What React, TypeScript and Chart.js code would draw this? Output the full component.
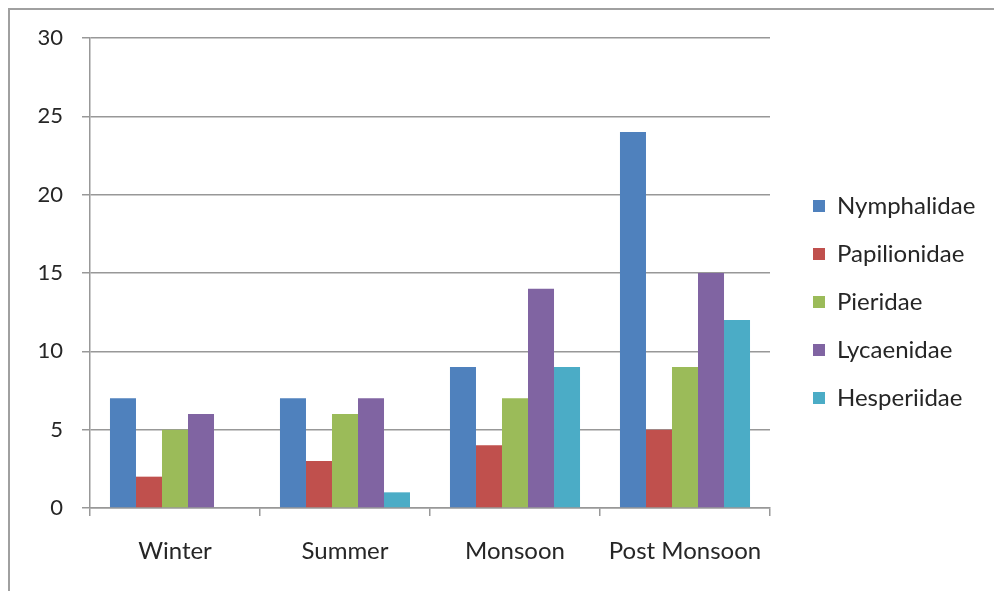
import React, { useEffect, useRef } from "react";
import { Chart, registerables } from "chart.js";

Chart.register(...registerables);

// Butterfly family counts per season
const seasons = ["Winter", "Summer", "Monsoon", "Post Monsoon"];
const nymphalidae = [7, 7, 9, 24];
const papilionidae = [2, 3, 4, 5];
const pieridae = [5, 6, 7, 9];
const lycaenidae = [6, 7, 14, 15];
const hesperiidae = [0, 1, 9, 12];

const familyNames = ["Nymphalidae", "Papilionidae", "Pieridae", "Lycaenidae", "Hesperiidae"];
const familyValues = [nymphalidae, papilionidae, pieridae, lycaenidae, hesperiidae];
const familyColors = ["#4F81BD", "#C0504D", "#9BBB59", "#8064A2", "#4BACC6"];

const yMin = 0;
const yMax = 30;
const yStep = 5;

const FONT = "Lato, 'Liberation Sans', sans-serif";
const TEXT = "#262626";
const GRID = "#989898";

// right edge of the plot area inside the canvas
const PLOT_RIGHT = 760;
// extra space between the plot and the legend column
const LEGEND_SHIFT = 19;

const legendShift = {
  id: "legendShift",
  afterLayout(chart: any) {
    const legend = chart.legend;
    if (!legend) return;
    legend.left += LEGEND_SHIFT;
    legend.right += LEGEND_SHIFT;
  },
};

export default function App() {
  const canvasRef = useRef<HTMLCanvasElement | null>(null);

  useEffect(() => {
    const canvas = canvasRef.current;
    if (!canvas) return;
    const chart = new Chart(canvas, {
      type: "bar",
      data: {
        labels: seasons,
        datasets: familyNames.map((name, i) => ({
          label: name,
          data: familyValues[i],
          backgroundColor: familyColors[i],
          borderWidth: 0,
          categoryPercentage: 0.765,
          barPercentage: 1,
        })),
      },
      plugins: [legendShift],
      options: {
        animation: false,
        responsive: false,
        devicePixelRatio: 1,
        layout: { padding: { top: 28, right: 20, left: 0, bottom: 25 } },
        plugins: {
          tooltip: { enabled: false },
          legend: {
            position: "right",
            labels: {
              boxWidth: 12,
              boxHeight: 12,
              padding: 24,
              color: TEXT,
              font: { family: FONT, size: 24 },
            },
          },
        },
        scales: {
          x: {
            grid: {
              offset: true,
              drawOnChartArea: false,
              drawTicks: true,
              tickLength: 8,
              color: GRID,
              lineWidth: 1.5,
            },
            border: { color: GRID, width: 1.5 },
            ticks: {
              color: TEXT,
              font: { family: FONT, size: 24 },
              padding: 21,
              maxRotation: 0,
            },
            afterFit: (scale: any) => {
              scale.height = 58;
            },
          },
          y: {
            min: yMin,
            max: yMax,
            grid: {
              color: GRID,
              lineWidth: 1.5,
              tickLength: 8,
            },
            border: { color: GRID, width: 1.5 },
            ticks: {
              stepSize: yStep,
              color: TEXT,
              font: { family: FONT, size: 22, lineHeight: 0.8 },
              padding: 19,
            },
            afterFit: (scale: any) => {
              scale.width = 80;
            },
          },
        },
      },
    });

    // keep the plot's right edge fixed whatever width the legend measures
    const settle = () => {
      for (let i = 0; i < 3; i++) {
        const diff = chart.chartArea.right - PLOT_RIGHT;
        if (Math.abs(diff) < 0.5) break;
        const pad = chart.options.layout!.padding as any;
        pad.right += diff;
        chart.update();
      }
    };
    settle();
    let alive = true;
    if (document.fonts && document.fonts.load) {
      document.fonts.load(`24px Lato`).then(() => {
        if (!alive) return;
        chart.update();
        settle();
      });
    }
    return () => {
      alive = false;
      chart.destroy();
    };
  }, []);

  return (
    <div
      style={{
        position: "fixed",
        left: 8,
        top: 8,
        width: 986,
        height: 583,
        borderLeft: "2px solid #a0a0a0",
        borderTop: "2px solid #a0a0a0",
        background: "#ffffff",
        boxSizing: "border-box",
      }}
    >
      <canvas ref={canvasRef} width={984} height={581} style={{ display: "block" }} />
    </div>
  );
}
